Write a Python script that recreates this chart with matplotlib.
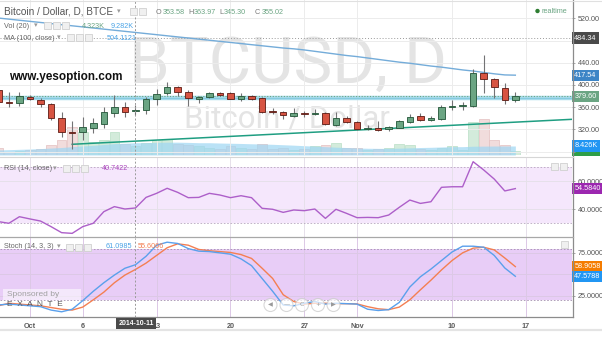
import numpy as np
import pandas as pd
import matplotlib
matplotlib.use("Agg")
import matplotlib.pyplot as plt
import matplotlib.dates as mdates
import matplotlib.transforms as mtrans
from matplotlib.patches import Rectangle, Circle

plt.rcParams['font.family'] = ['Liberation Sans', 'DejaVu Sans']

W, H = 602, 358

# daily BTCUSD candles, BTCE
dates = pd.date_range("2014-09-28", "2014-11-16", freq="D")
opens = [391, 368.5, 368, 379, 373, 366, 341, 315.5, 314.5, 323,
         329, 350, 360.5, 353.58, 354, 374, 385, 397, 387, 375.5,
         378, 385.5, 385, 375, 380, 376, 353, 352, 344, 350,
         348, 349, 328, 340, 334, 321, 322, 320, 323, 334,
         344, 337, 338, 361, 362, 362, 422, 410, 394, 372]
highs = [396, 387.7, 387, 382, 376, 368, 352, 335, 341.5, 340,
         360.5, 382, 370, 363.97, 378, 392, 406, 398, 391, 380.5,
         388, 387.7, 386.5, 385, 382, 377.7, 359, 353.5, 358, 353,
         356, 351, 352, 344, 335, 328, 335.5, 326, 336.7, 347.6,
         348.8, 344, 364, 372.8, 370, 428, 454, 413, 403, 387.7]
lows = [365, 360.7, 362, 372, 361, 337, 307, 284.5, 301, 314,
        322, 342.5, 342.5, 345.30, 348, 364, 381.5, 380.5, 362.5, 368,
        376, 380, 374, 371, 372.8, 350, 347, 338, 342.7, 342.7,
        346, 327, 326, 331, 319, 318.7, 317.5, 317.5, 321.8, 332,
        335.5, 335, 336, 354.7, 355, 360.7, 385, 376, 365.6, 370]
closes = [370, 367.5, 380, 374, 365, 340, 315, 314, 323.5, 331,
          352, 360.5, 352, 355.02, 375.5, 384, 397, 387, 376, 378,
          386, 381.5, 375.5, 380.5, 375, 352, 351.5, 346, 350, 347,
          349.5, 329, 341, 334, 320.5, 322.5, 319, 324.7, 335, 342.7,
          337, 341, 360.7, 362.5, 362.3, 421, 410, 396, 373, 379.6]
volume_k = [6.5, 3, 4, 5, 6, 9.3, 14, 26, 21.5, 12,
            14, 21.5, 10, 8, 11, 14, 15, 10, 9, 8,
            7, 6, 8, 7, 6, 10, 6, 7, 5, 6,
            8, 9, 11, 7, 7, 5, 6, 7, 10, 9,
            6, 5, 7, 8, 5, 31, 34, 14, 9.5, 4.061]
vol_ma_k = [4.7, 5, 5.3, 5.6, 6, 6.5, 7, 7.8, 8.5, 9,
            9.8, 10.6, 11, 11.5, 11.5, 11.8, 12, 12, 11.8, 11.5,
            11.5, 11.2, 11, 10.8, 10.5, 10.3, 10, 9.6, 9.2, 8.7,
            8.3, 7.8, 7.3, 7, 6.6, 6.3, 6.2, 6.2, 6.4, 6.7,
            7, 7.2, 7.5, 7.8, 7.8, 8.2, 8.3, 8.4, 8.4, 8.426]
ma100 = [520.5, 518.5, 516.5, 514.5, 512.5, 510.5, 508.5, 506.5, 504.5, 502.5,
         500.5, 498.5, 496.5, 494.5, 492.5, 490.5, 488.5, 486.5, 484.5, 482.5,
         480.5, 478.5, 476.5, 474.5, 472.5, 470.5, 468.5, 466.5, 465, 463,
         460.5, 458, 455.5, 453, 451, 448.5, 446, 443.5, 441, 439,
         436.5, 434, 432, 429.5, 427, 425, 422.5, 420, 418, 417.54]
rsi = [31, 29.8, 34.5, 32.9, 31.4, 27.4, 23.1, 22.6, 27.4, 29.8,
       38.1, 41.7, 40, 40.74, 48.3, 51.2, 54.8, 51.9, 48.1, 48.3,
       51.2, 50, 48.1, 49.5, 48.1, 40.5, 39.8, 37.6, 39.3, 38.8,
       40, 33.3, 39.8, 36.9, 33.8, 34, 33.8, 35.7, 41.2, 46.4,
       44, 45.2, 55.5, 55.9, 55.9, 73.8, 67.9, 61.4, 52.9, 54.584]
stoch_k = [14, 15, 14, 13, 12, 8, 6, 9, 19, 30,
           40, 49, 57, 61.1, 71, 84, 87.5, 86, 80, 77,
           76.5, 75, 73.5, 68, 60, 45, 30, 14, 13, 16,
           18, 15, 16, 15.5, 15, 9, 7.5, 8.5, 17, 35,
           47, 56, 66, 76, 82.8, 82.8, 81.6, 72, 57.3, 47.58]
stoch_d = [13, 16, 15, 14, 13, 11, 9, 8, 11.5, 20,
           29, 40, 49, 55.6, 63, 72, 81, 85.6, 84, 79,
           77.5, 76.5, 75.5, 73, 68.5, 57, 45, 26, 18, 15,
           16, 16, 15.5, 15.5, 15.2, 12, 9.5, 8.5, 11.5, 20,
           31.7, 43, 55, 66, 75, 80.5, 81.6, 78.5, 69, 58.91]

tick_dates = ["2014-10-01", "2014-10-06", "2014-10-13", "2014-10-20",
              "2014-10-27", "2014-11-01", "2014-11-10", "2014-11-17"]
tick_labels = ["Oct", "6", "13", "20", "27", "Nov", "10", "17"]
price_ticks = [280, 320, 360, 400, 440, 480, 520]
price_labels = ["", "320.00", "360.00", "400.00", "440.00", "", "520.00"]
level_price = 375.6
trend_pts = [("2014-10-05", 293.0), ("2014-11-22", 338.6)]
cross_date, cross_price = "2014-10-11", 484.34

FS = 5.2  # small chart chrome font size


def rect(x0, y0, x1, y1):
    return [x0 / W, 1 - y1 / H, (x1 - x0) / W, (y1 - y0) / H]


def tag(ax, y, text, fc, tc="white"):
    tr = mtrans.blended_transform_factory(ax.transAxes, ax.transData)
    ax.text(1.004, y, text, transform=tr, fontsize=FS, color=tc, va="center",
            ha="left", clip_on=False, zorder=20,
            bbox=dict(boxstyle="square,pad=0.3", fc=fc, ec="none"))


def style_right(ax):
    for s in ax.spines.values():
        s.set_visible(False)
    ax.yaxis.tick_right()
    ax.tick_params(axis="y", length=2.5, width=0.6, color="#999999", labelsize=FS,
                   labelcolor="#555555", pad=1.5)
    ax.tick_params(axis="x", length=0)
    ax.set_axisbelow(True)


fig = plt.figure(figsize=(W / 100, H / 100), dpi=100)
fig.patch.set_facecolor("white")

x = mdates.date2num(dates)
day0 = mdates.date2num(pd.Timestamp("2014-10-01"))
xlim = (day0 - 2.84, day0 + 51.37)
xt = mdates.date2num(pd.to_datetime(tick_dates))
o, hi, lo, c = map(np.array, (opens, highs, lows, closes))
up = c >= o

# ---- background layer: volume + watermark
ax_v = fig.add_axes(rect(0, 0, 572, 155), zorder=0)
ax_v.set_xlim(xlim)
ax_v.set_ylim(0, 145)
ax_v.axis("off")
ax_v.text(0.503, 0.585, "BTCUSD, D", transform=ax_v.transAxes, fontsize=47,
          family="Roboto", color="#e4e4e4", ha="center", va="center")
ax_v.text(0.502, 0.235, "Bitcoin / Dollar", transform=ax_v.transAxes, fontsize=22.5,
          family="Roboto", color="#e4e4e4", ha="center", va="center")
vk = np.array(volume_k)
ax_v.bar(x[up], vk[up], width=0.92, color="#d3ebdb", edgecolor="#b9dfc6", lw=0.5)
ax_v.bar(x[~up], vk[~up], width=0.92, color="#f1dcdc", edgecolor="#e3c0c0", lw=0.5)
ax_v.fill_between(x, 0, vol_ma_k, color="#9dd6f3", alpha=0.7, lw=0)
tag(ax_v, 4.061, "4.061K", "#2e9e48", "#0c3d14")
tag(ax_v, 8.426, "8.426K", "#2196f3")

# ---- price panel
ax_p = fig.add_axes(rect(0, 0, 572, 155), zorder=1)
ax_p.patch.set_visible(False)
ax_p.set_xlim(xlim)
ax_p.set_ylim(273.7, 553)
style_right(ax_p)
ax_p.set_yticks(price_ticks)
ax_p.set_yticklabels(price_labels)
ax_p.set_xticks(xt)
ax_p.set_xticklabels([])
ax_p.grid(True, color="#ececec", lw=0.7)

ax_p.axhline(level_price, color="#a9dced", lw=3.2, zorder=2)
ax_p.axhline(level_price, color="#86cbe0", lw=0.8, zorder=2)
ax_p.axhline(closes[-1], color="#6ba583", lw=0.8, ls=(0, (1, 1.5)), zorder=2)
ax_p.axhline(cross_price, color="#9a9a9a", lw=0.7, ls=(0, (1, 2)), zorder=2)
tx = mdates.date2num(pd.to_datetime([p[0] for p in trend_pts]))
ax_p.plot(tx, [p[1] for p in trend_pts], color="#1f9e82", lw=1.1, zorder=3)
ax_p.plot(x, ma100, color="#74acd9", lw=1.0, zorder=3)

body_lo = np.minimum(o, c)
body_h = np.maximum(np.abs(c - o), 0.9)
ax_p.vlines(x, lo, hi, color="#737375", lw=0.8, zorder=4)
ax_p.bar(x[up], body_h[up], bottom=body_lo[up], width=0.62, color="#6ba583",
         edgecolor="#225437", lw=0.6, zorder=5)
ax_p.bar(x[~up], body_h[~up], bottom=body_lo[~up], width=0.62, color="#d75442",
         edgecolor="#5b1a13", lw=0.6, zorder=5)
tag(ax_p, cross_price, "484.34", "#4a4a4a")
tag(ax_p, ma100[-1], "417.54", "#3d85c6")
tag(ax_p, closes[-1], "379.60", "#6ba583")

# ---- RSI panel
ax_r = fig.add_axes(rect(0, 157.5, 572, 237), zorder=1)
ax_r.set_xlim(xlim)
ax_r.set_ylim(20, 76.8)
style_right(ax_r)
ax_r.axhspan(30, 70, color="#f5e7fc", lw=0, zorder=0)
for lvl in (30, 70):
    ax_r.axhline(lvl, color="#b7a6bf", lw=0.6, ls=(0, (2, 2)), zorder=1)
ax_r.set_yticks([40, 60])
ax_r.set_yticklabels(["40.0000", "60.0000"])
ax_r.set_xticks(xt)
ax_r.set_xticklabels([])
ax_r.grid(True, color="#e6e0ea", lw=0.7)
ax_r.plot(x, rsi, color="#ad5fc9", lw=1.0, zorder=3)
tag(ax_r, rsi[-1], "54.5840", "#9c27b0")

# ---- Stoch panel
ax_s = fig.add_axes(rect(0, 237.5, 572, 317), zorder=1)
ax_s.set_xlim(xlim)
ax_s.set_ylim(-0.1, 93)
style_right(ax_s)
ax_s.axhspan(20, 80, color="#e8cdf7", lw=0, zorder=0)
for lvl in (20, 80):
    ax_s.axhline(lvl, color="#a48fb0", lw=0.6, ls=(0, (2, 2)), zorder=1)
ax_s.set_yticks([25, 50, 75])
ax_s.set_yticklabels(["25.0000", "", "75.0000"])
ax_s.set_xticks(xt)
ax_s.set_xticklabels(tick_labels, fontweight="bold")
ax_s.tick_params(axis="x", length=0, labelsize=FS, labelcolor="#5a5a5a", pad=4)
ax_s.grid(True, color="#dcc8e6", lw=0.7)
ax_s.plot(x, stoch_d, color="#f47f52", lw=1.0, zorder=3)
ax_s.plot(x, stoch_k, color="#5aa0ec", lw=1.0, zorder=3)
tag(ax_s, stoch_d[-1], "58.9058", "#f57c00")
tag(ax_s, stoch_k[-1], "47.5788", "#2196f3")

cx = mdates.date2num(pd.Timestamp(cross_date))
for ax in (ax_p, ax_r, ax_s):
    ax.axvline(cx, color="#9a9a9a", lw=0.7, ls=(0, (2, 2)), zorder=6)

# ---- overlay in pixel coordinates for the TradingView chrome
ov = fig.add_axes([0, 0, 1, 1], zorder=10)
ov.set_xlim(0, W)
ov.set_ylim(H, 0)
ov.axis("off")
ov.patch.set_alpha(0)

ov.plot([572.5, 572.5], [0, 317], color="#8c8c8c", lw=0.9)
ov.plot([0, 572.5], [157, 157], color="#d6d6d6", lw=0.8)
ov.plot([0, 572.5], [237, 237], color="#a8a8a8", lw=0.9)
ov.plot([0, 572.5], [317, 317], color="#8c8c8c", lw=0.9)
ov.plot([0, W], [0.5, 0.5], color="#e0e0e0", lw=0.8)
ov.plot([0, W], [329.5, 329.5], color="#e4e4e4", lw=1.6)


def icons(x0, y0, n, size=7, gap=2):
    for i in range(n):
        ov.add_patch(Rectangle((x0 + i * (size + gap), y0), size, size,
                               fc="#f0f0f0", ec="#d0d0d0", lw=0.6))


lab = dict(fontsize=FS, va="center", ha="left")
arrow = dict(fontsize=FS, va="center", ha="left", color="#9a9a9a")
ov.text(4, 12, "Bitcoin / Dollar, D, BTCE", fontsize=7.2, color="#555555",
        va="center", ha="left")
ov.text(117, 12, "\u25be", **arrow)
icons(130, 8, 2)
for key, kx, val, vx in (("O", 156, "353.58", 162.5), ("H", 188, "363.97", 194),
                         ("L", 219, "345.30", 224), ("C", 255, "355.02", 262)):
    ov.text(kx, 12.5, key, color="#777777", **lab)
    ov.text(vx, 12.5, val, color="#6ba583", **lab)

ov.text(4, 26, "Vol (20)", color="#666666", **lab)
ov.text(34, 26, "\u25be", **arrow)
icons(44, 22, 3)
ov.text(82, 26, "4.323K", color="#6ba583", **lab)
ov.text(111, 26, "9.282K", color="#4aa3e6", **lab)

ov.text(4, 38, "MA (100, close)", color="#666666", **lab)
ov.text(57, 38, "\u25be", **arrow)
icons(67, 34, 3)
ov.text(107, 38, "504.1121", color="#4aa3e6", **lab)

ov.text(9, 77, "www.yesoption.com", fontsize=8.5, fontweight="bold",
        color="#111111", va="center", ha="left")

ov.add_patch(Circle((537.5, 11), 2.2, fc="#2e7d32", ec="none"))
ov.text(542, 11.5, "realtime", color="#6ba583", **lab)

ov.text(4, 168.5, "RSI (14, close)", color="#666666", **lab)
ov.text(53, 168.5, "\u25be", **arrow)
icons(63, 165, 3)
ov.text(102, 168.5, "40.7422", color="#ab47bc", **lab)
icons(551, 163, 2)

ov.text(4, 247, "Stoch (14, 3, 3)", color="#666666", **lab)
ov.text(57, 247, "\u25be", **arrow)
icons(66, 243.5, 3)
ov.text(106, 247, "61.0985", color="#4aa3e6", **lab)
ov.text(138, 247, "55.6066", color="#f47f52", **lab)
icons(561, 241, 1)

ov.add_patch(Rectangle((3, 288.5), 78, 11, fc="white", ec="none", alpha=0.55))
ov.text(7, 294, "Sponsored by", color="#a0a0a0", fontsize=6, va="center", ha="left")
ov.text(7, 305, "E  X  A  N  T  E", color="#555555", fontsize=6, va="center",
        ha="left")

for bx, sym in zip((270.5, 286.5, 302, 318, 333.5),
                   ("\u25c0", "\u2014", "C", "+", "\u25b6")):
    ov.add_patch(Circle((bx, 305), 6.5, fc="white", ec="#c8c8c8", lw=0.8, alpha=0.7))
    ov.text(bx, 305, sym, fontsize=4.5, color="#999999", ha="center", va="center",
            family=["DejaVu Sans"])

ov.text(136, 323.5, "2014-10-11", fontsize=5, fontweight="bold", color="white",
        ha="center", va="center",
        bbox=dict(boxstyle="square,pad=0.35", fc="#4a4a4a", ec="none"))

fig.savefig("out.png", dpi=100, facecolor="white")
